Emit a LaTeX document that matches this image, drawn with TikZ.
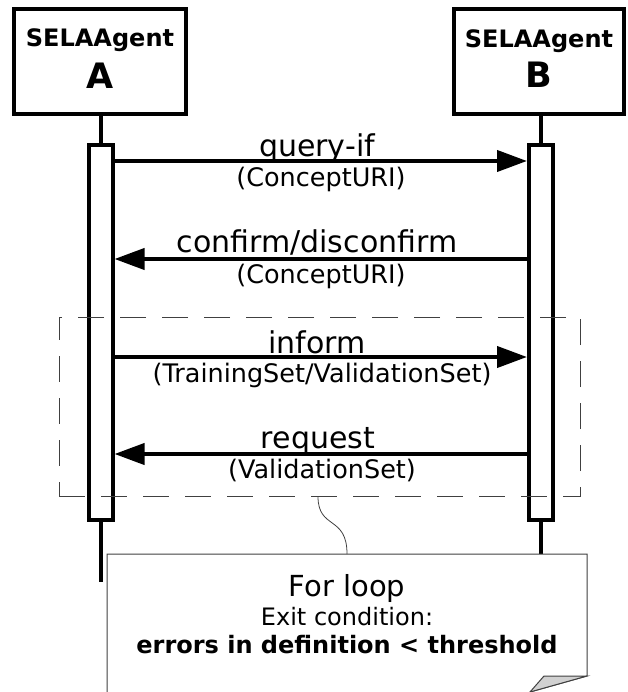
\documentclass[tikz,border=0pt]{standalone}
\usepackage{fontspec}
\setmainfont{DejaVu Sans}
\usetikzlibrary{arrows.meta}
\begin{document}
\begin{tikzpicture}[x=1pt,y=-1pt,
  agent/.style={draw, line width=4pt, minimum height=105pt, inner sep=0pt, fill=white},
  bar/.style={draw, line width=4pt, minimum width=24pt, minimum height=375pt, inner sep=0pt, fill=white},
  life/.style={line width=4pt},
  msg/.style={line width=4pt, -{Triangle[length=30pt,width=21pt]}},
  agname/.style={anchor=base, inner sep=0pt, font=\fontsize{24}{28}\selectfont\bfseries},
  agletter/.style={anchor=base, inner sep=0pt, font=\fontsize{35}{40}\selectfont\bfseries},
  lbl/.style={anchor=base, inner sep=0pt, font=\fontsize{30}{36}\selectfont},
  sublbl/.style={anchor=base, inner sep=0pt, font=\fontsize{25.5}{30}\selectfont},
  frame/.style={draw=black!75, line width=1pt, dash pattern=on 26pt off 16pt, minimum width=521pt, minimum height=179pt, inner sep=0pt},
  notetxt/.style={anchor=base, inner sep=0pt},
  thin/.style={draw=black!75, line width=1pt}]
\useasboundingbox (0,0) rectangle (627,692);

% agents
\node[agent, minimum width=172pt] (boxA) at (100,61.5) {};
\node[agent, minimum width=170pt] (boxB) at (539,61.5) {};
\node[agname] (nA) at (100,47) {SELAAgent};
\node[agletter] (lA) at (100,89) {A};
\node[agname] (nB) at (539,48) {SELAAgent};
\node[agletter] (lB) at (539,88) {B};

% activation bars
\node[bar] (barA) at (100.5,332.5) {};
\node[bar] (barB) at (541,332.5) {};

% lifelines
\draw[life] (barA.north) -- (barA.north |- boxA.south);
\draw[life] (barB.north) -- (barB.north |- boxB.south);
\coordinate (endA) at (100.5,582);
\coordinate (endB) at (541,556);
\draw[life] (barA.south) -- (endA);
\draw[life] (barB.south) -- (endB);

% message levels
\coordinate (m1) at (0,161);
\coordinate (m2) at (0,259);
\coordinate (m3) at (0,357);
\coordinate (m4) at (0,454);

\draw[msg] (barA.east |- m1) -- (barB.west |- m1);
\draw[msg] (barB.west |- m2) -- (barA.east |- m2);
\draw[msg] (barA.east |- m3) -- (barB.west |- m3);
\draw[msg] (barB.west |- m4) -- (barA.east |- m4);

\node[lbl] (t1) at (317,157) {query-if};
\node[sublbl] (s1) at (321,187) {(ConceptURI)};
\node[lbl] (t2) at (317,253) {confirm/disconfirm};
\node[sublbl] (s2) at (321,283) {(ConceptURI)};
\node[lbl] (t3) at (317,353) {inform};
\node[sublbl] (s3) at (322,382) {(TrainingSet/ValidationSet)};
\node[lbl] (t4) at (318,448) {request};
\node[sublbl] (s4) at (322,478) {(ValidationSet)};

% loop frame
\node[frame] (loop) at (319.5,406.5) {};

% note
\coordinate (nTL) at (107,554);
\coordinate (nTR) at (587,554);
\coordinate (nFR) at (587,676);
\coordinate (nFL) at (544,676);
\coordinate (nFB) at (530,692);
\coordinate (nBL) at (107,700);
\filldraw[thin, fill=white] (nFB) -- (nFR) -- (nTR) -- (nTL) -- (nBL) -- (nFB |- nBL) -- cycle;
\filldraw[thin, fill=black!18] (nFL) -- (nFR) -- (nFB) -- cycle;
\draw[thin, line width=0.8pt] (loop.south -| 318,0) .. controls (318,530) and (347,515) .. (nTL -| 347,0);

\node[notetxt, font=\fontsize{29}{34}\selectfont] (n1) at (347,596) {For loop};
\node[notetxt, font=\fontsize{24}{28}\selectfont] (n2) at (347,625) {Exit condition:};
\node[notetxt, font=\fontsize{24}{28}\selectfont\bfseries] (n3) at (347,653) {errors in definition < threshold};
\end{tikzpicture}
\end{document}
